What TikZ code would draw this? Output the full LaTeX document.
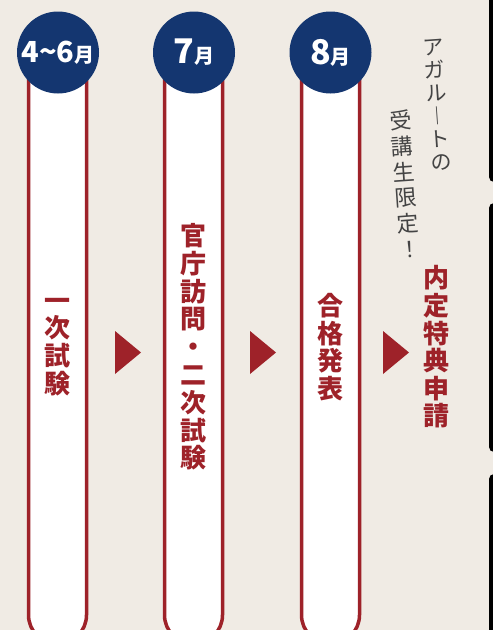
\documentclass[tikz,border=0pt]{standalone}
\usepackage{fontspec}
\usepackage{xcolor}
\usepackage{tikz}
\usetikzlibrary{shapes.geometric}

\newfontfamily\cjk{Noto Sans CJK JP}
\definecolor{paper}{HTML}{F0EBE4}
\definecolor{navy}{HTML}{143670}
\definecolor{brick}{HTML}{9E2229}
\definecolor{pencil}{HTML}{444444}

\newcommand{\tsuki}{{\fontsize{20}{20}\selectfont 月}}

\begin{document}
\begin{tikzpicture}[x=1pt,y=-1pt,inner sep=0pt]
        \tikzset{pill/.style={rectangle,rounded corners=29pt,draw=brick,line width=3.5pt,fill=white,minimum width=58pt,minimum height=594pt,text=brick,align=center,font=\cjk\bfseries\fontsize{26}{27.8}\selectfont}};
        \tikzset{month/.style={circle,fill=navy,minimum size=82pt,text=white,font=\cjk\bfseries}};
        \tikzset{nextarrow/.style={isosceles triangle,isosceles triangle stretches,fill=brick,minimum width=43pt,minimum height=26pt,anchor=west,outer sep=0pt}};
        \tikzset{memo/.style={text=pencil,align=center,rotate=4}};

        \useasboundingbox (0,0) rectangle (493,630);
        \clip (0,0) rectangle (493,630);
        \fill [paper] (0,0) rectangle (493,630);

        % edge of the next panel
        \fill [black,rounded corners=5pt] (489,-10) rectangle (500,182);
        \fill [black,rounded corners=5pt] (489,203) rectangle (500,452);
        \fill [black,rounded corners=5pt] (489,474) rectangle (500,640);

        \node [pill] (exam) at (57.5,347) {一\\次\\試\\験};
        \node [pill] (visit) at (193.5,347) {官\\庁\\訪\\問\\・\\二\\次\\試\\験};
        \node [pill] (result) at (330.5,347) {合\\格\\発\\表};
        \node [text=brick,align=center,font=\cjk\bfseries\fontsize{26}{27.6}\selectfont] (offer) at (436.5,347) {内\\定\\特\\典\\申\\請};

        \node [month] (apr) at (58,52.5) {\fontsize{29}{29}\selectfont 4\char"7E 6\tsuki};
        \node [month] (jul) at (194,52.5) {\fontsize{34}{34}\selectfont 7\tsuki};
        \node [month] (aug) at (330.5,52.5) {\fontsize{34}{34}\selectfont 8\tsuki};

        \node [nextarrow] (next1) at (115,352.5) {};
        \node [nextarrow] (next2) at (250,352.5) {};
        \node [nextarrow] (next3) at (383,352.5) {};

        \node [memo,font=\cjk\fontsize{21}{23}\selectfont] (memo1) at (437,105) {ア\\ガ\\ル\\︱\\ト\\の};
        \node [memo,font=\cjk\fontsize{22}{26}\selectfont] (memo2) at (405,184) {受\\講\\生\\限\\定\\！};
    \end{tikzpicture}
\end{document}
